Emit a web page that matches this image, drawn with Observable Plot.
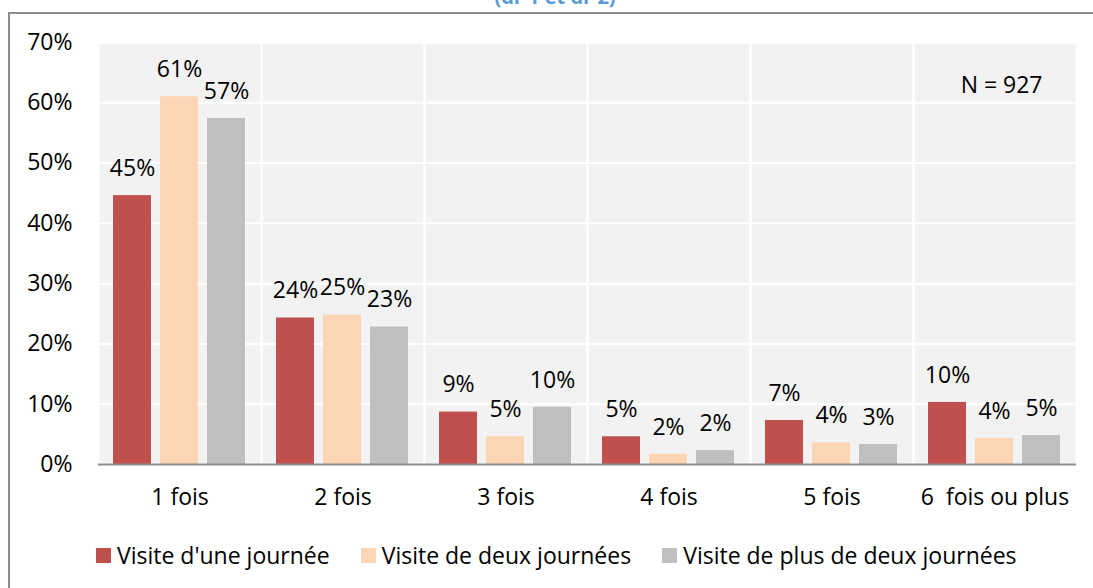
<!DOCTYPE html>
<html>
<head>
<meta charset="utf-8">
<script src="https://cdn.jsdelivr.net/npm/d3@7"></script>
<script src="https://cdn.jsdelivr.net/npm/@observablehq/plot@0.6"></script>
<style>
  html, body { margin: 0; padding: 0; background: #fff; width: 1093px; height: 588px; overflow: hidden; }
  body { position: relative; font-family: "Open Sans", sans-serif; }
  #topline { position: absolute; left: 8px; top: 12px; width: 1085px; height: 2px; background: #8c8c8c; }
  #leftline { position: absolute; left: 8px; top: 12px; width: 2px; height: 576px; background: #8c8c8c; }
  #title { position: absolute; left: 0; width: 1093px; top: -17px; text-align: center; color: #5b9bd5; font-weight: bold; font-size: 20px; font-family: "Open Sans", sans-serif; padding-left: 17px; box-sizing: border-box; }
  #chart { position: absolute; left: 0; top: 0; width: 1093px; height: 520px; overflow: hidden; }
  #chart svg text { white-space: pre; }
  #legend { position: absolute; left: 96px; top: 539px; display: flex; align-items: center; font-size: 23px; color: #000; }
  .item { display: flex; align-items: center; margin-right: 31px; }
  .sw { width: 15px; height: 15px; margin-right: 6px; }
</style>
</head>
<body>
<div id="topline"></div>
<div id="leftline"></div>
<div id="title">(dr 1 et dr 2)</div>
<div id="chart"></div>
<div id="legend"></div>
<script>
const categories = ["1 fois", "2 fois", "3 fois", "4 fois", "5 fois", "6  fois ou plus"];
const series = ["Visite d'une journée", "Visite de deux journées", "Visite de plus de deux journées"];
const colors = ["#c0504d", "#fcd5b4", "#bfbfbf"];
const valuesUneJournee = [44.6, 24.3, 8.7, 4.6, 7.3, 10.3];
const valuesDeuxJournees = [61.0, 24.8, 4.6, 1.7, 3.6, 4.3];
const valuesPlusDeDeux = [57.4, 22.8, 9.5, 2.3, 3.3, 4.8];
const labelsUneJournee = ["45%", "24%", "9%", "5%", "7%", "10%"];
const labelsDeuxJournees = ["61%", "25%", "5%", "2%", "4%", "4%"];
const labelsPlusDeDeux = ["57%", "23%", "10%", "2%", "3%", "5%"];
const yTicks = [0, 10, 20, 30, 40, 50, 60, 70];
const note = "N = 927";

const allValues = [valuesUneJournee, valuesDeuxJournees, valuesPlusDeDeux];
const allLabels = [labelsUneJournee, labelsDeuxJournees, labelsPlusDeDeux];
const data = [];
categories.forEach((c, i) => {
  series.forEach((s, j) => {
    data.push({cat: c, serie: s, value: allValues[j][i], label: allLabels[j][i]});
  });
});
const noteData = [{cat: categories[categories.length - 1], text: note}];

const chart = Plot.plot({
  width: 1093,
  height: 520,
  marginLeft: 97,
  marginRight: 16,
  marginTop: 42,
  marginBottom: 56,
  style: {fontFamily: "Open Sans, sans-serif", fontSize: "23px", color: "#000", background: "transparent"},
  fx: {domain: categories, label: null, padding: 0, tickSize: 0, tickPadding: 24, axis: "bottom"},
  x: {domain: series, axis: null, paddingInner: 0.1875, paddingOuter: 0.295},
  y: {domain: [0, 70], ticks: yTicks, tickFormat: d => d + "%", label: null, tickSize: 0, tickPadding: 26},
  color: {domain: series, range: colors},
  marks: [
    Plot.frame({fill: "#f2f2f2"}),
    Plot.gridY(yTicks, {stroke: "#ffffff", strokeOpacity: 1, strokeWidth: 2}),
    Plot.frame({stroke: "#ffffff", strokeWidth: 2}),
    Plot.barY(data, {fx: "cat", x: "serie", y: "value", fill: "serie"}),
    Plot.ruleY([0], {stroke: "#8c8c8c", strokeWidth: 2}),
    Plot.text(data, {fx: "cat", x: "serie", y: "value", text: "label", dy: -27, fill: "#000", fontSize: 23}),
    Plot.text(noteData, {fx: "cat", text: "text", frameAnchor: "top-right", dx: -34, dy: 34, fill: "#000", fontSize: 23})
  ]
});
document.getElementById("chart").appendChild(chart);

const legend = document.getElementById("legend");
series.forEach((s, j) => {
  const item = document.createElement("div");
  item.className = "item";
  const sw = document.createElement("div");
  sw.className = "sw";
  sw.style.background = colors[j];
  const t = document.createElement("span");
  t.textContent = s;
  item.appendChild(sw);
  item.appendChild(t);
  legend.appendChild(item);
});
</script>
</body>
</html>
